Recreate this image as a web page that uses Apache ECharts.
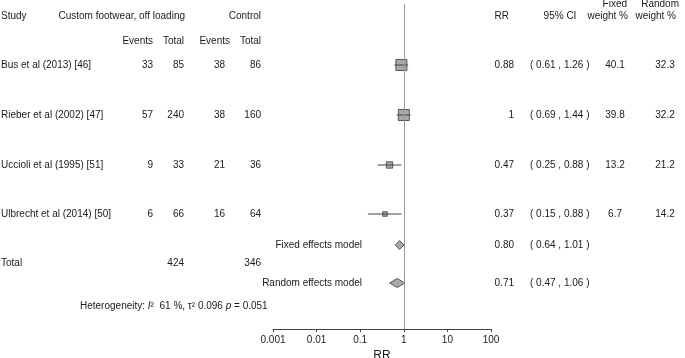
<!DOCTYPE html>
<html>
<head>
<meta charset="utf-8">
<script src="https://cdn.jsdelivr.net/npm/echarts@6/dist/echarts.min.js"></script>
<style>
  html, body { margin: 0; padding: 0; background: #fff; }
  #chart { width: 685px; height: 358px; }
</style>
</head>
<body>
<div id="chart"></div>
<script>
// study data
var studies = ["Bus et al (2013) [46]", "Rieber et al (2002) [47]", "Uccioli et al (1995) [51]", "Ulbrecht et al (2014) [50]"];
var expEvents = [33, 57, 9, 6];
var expTotal = [85, 240, 33, 66];
var ctrlEvents = [38, 38, 21, 16];
var ctrlTotal = [86, 160, 36, 64];
var rr = [0.88, 1, 0.47, 0.37];
var lower = [0.61, 0.69, 0.25, 0.15];
var upper = [1.26, 1.44, 0.88, 0.88];
var wFixed = [40.1, 39.8, 13.2, 6.7];
var wRandom = [32.3, 32.2, 21.2, 14.2];

// pooled estimates
var models = ["Fixed effects model", "Random effects model"];
var modelRR = [0.80, 0.71];
var modelLower = [0.64, 0.47];
var modelUpper = [1.01, 1.06];
var totalExp = 424;
var totalCtrl = 346;
var hetI2 = 61, hetTau2 = 0.096, hetP = 0.051;

var tickLabels = ["0.001", "0.01", "0.1", "1", "10", "100"];

// layout: vertical position of each text row (y axis units)
var ROW = { head: 16, sub: 41, study: [65, 115, 165, 214], fixed: 245, total: 263, random: 283, het: 306 };
var FONT = '"Liberation Sans", Arial, sans-serif';
var TXT = '#1a1a1a';

var chart = echarts.init(document.getElementById('chart'));

chart.setOption({
    animation: false,
    grid: { left: 273, width: 218, top: 4, height: 325, outerBoundsMode: 'none', containLabel: false },
    xAxis: {
        type: 'log',
        logBase: 10,
        min: 0.001,
        max: 100,
        axisLine: { lineStyle: { color: '#444', width: 1 } },
        axisTick: { length: 3, lineStyle: { color: '#444' } },
        axisLabel: {
            color: TXT, fontSize: 10, fontFamily: FONT, margin: 6,
            formatter: function (v) { return tickLabels[Math.round(Math.log10(v)) + 3]; }
        },
        splitLine: { show: false },
        name: 'RR',
        nameLocation: 'middle',
        nameGap: 18,
        nameTextStyle: { color: TXT, fontSize: 12, fontFamily: FONT }
    },
    yAxis: { type: 'value', min: 4, max: 329, inverse: true, show: false },
    series: [{
        type: 'custom',
        data: studies.map(function (s, i) { return [rr[i], ROW.study[i], lower[i], upper[i], wFixed[i]]; }),
        renderItem: function (params, api) {
            var c = api.coord([api.value(0), api.value(1)]);
            var l = api.coord([api.value(2), api.value(1)]);
            var h = api.coord([api.value(3), api.value(1)]);
            var s = 1.74 * Math.sqrt(api.value(4));
            return {
                type: 'group',
                children: [
                    { type: 'rect', shape: { x: c[0] - s / 2, y: c[1] - s / 2, width: s, height: s },
                      style: { fill: '#a9a9a9', stroke: '#555', lineWidth: 1 } },
                    { type: 'line', shape: { x1: l[0], y1: c[1], x2: h[0], y2: c[1] },
                      style: { stroke: '#444', lineWidth: 1 } }
                ]
            };
        },
        markLine: {
            silent: true,
            symbol: 'none',
            label: { show: false },
            lineStyle: { color: '#9a9a9a', type: 'solid', width: 1 },
            data: [{ xAxis: 1 }]
        }
    }, {
        type: 'custom',
        data: models.map(function (m, i) { return [modelRR[i], i === 0 ? ROW.fixed : ROW.random, modelLower[i], modelUpper[i]]; }),
        renderItem: function (params, api) {
            var c = api.coord([api.value(0), api.value(1)]);
            var l = api.coord([api.value(2), api.value(1)]);
            var h = api.coord([api.value(3), api.value(1)]);
            var hh = 4.5;
            return {
                type: 'polygon',
                shape: { points: [[l[0], c[1]], [c[0], c[1] - hh], [h[0], c[1]], [c[0], c[1] + hh]] },
                style: { fill: '#a9a9a9', stroke: '#555', lineWidth: 1 }
            };
        }
    }]
});

// table text, placed on the y axis rows
function py(v) { return chart.convertToPixel({ yAxisIndex: 0 }, v); }
function txt(str, x, y, align, extra) {
    var st = { text: str, fill: TXT, font: '10px ' + FONT, align: align || 'left', verticalAlign: 'middle' };
    if (extra) for (var k in extra) st[k] = extra[k];
    return { type: 'text', x: x, y: py(y), style: st, silent: true };
}

var g = [];
g.push(txt('Study', 1, ROW.head));
g.push(txt('Custom footwear, off loading', 185, ROW.head, 'right'));
g.push(txt('Control', 261, ROW.head, 'right'));
g.push(txt('RR', 509, ROW.head, 'right'));
g.push(txt('95% CI', 560, ROW.head, 'center'));
g.push(txt('Fixed', 627, ROW.head - 12, 'right'));
g.push(txt('weight %', 628, ROW.head, 'right'));
g.push(txt('Random', 679, ROW.head - 12, 'right'));
g.push(txt('weight %', 676, ROW.head, 'right'));
g.push(txt('Events', 153, ROW.sub, 'right'));
g.push(txt('Total', 184, ROW.sub, 'right'));
g.push(txt('Events', 230, ROW.sub, 'right'));
g.push(txt('Total', 261, ROW.sub, 'right'));

studies.forEach(function (s, i) {
    var y = ROW.study[i];
    g.push(txt(s, 1, y));
    g.push(txt(String(expEvents[i]), 153, y, 'right'));
    g.push(txt(String(expTotal[i]), 184, y, 'right'));
    g.push(txt(String(ctrlEvents[i]), 214, y, 'left'));
    g.push(txt(String(ctrlTotal[i]), 261, y, 'right'));
    g.push(txt(String(rr[i]), 514, y, 'right'));
    g.push(txt('( ' + lower[i].toFixed(2) + ' , ' + upper[i].toFixed(2) + ' )', 530, y));
    g.push(txt(String(wFixed[i]), 615, y, 'center'));
    g.push(txt(String(wRandom[i]), 665, y, 'center'));
});

models.forEach(function (m, i) {
    var y = i === 0 ? ROW.fixed : ROW.random;
    g.push(txt(m, 362, y, 'right'));
    g.push(txt(modelRR[i].toFixed(2), 514, y, 'right'));
    g.push(txt('( ' + modelLower[i].toFixed(2) + ' , ' + modelUpper[i].toFixed(2) + ' )', 530, y));
});

g.push(txt('Total', 1, ROW.total));
g.push(txt(String(totalExp), 184, ROW.total, 'right'));
g.push(txt(String(totalCtrl), 261, ROW.total, 'right'));

g.push(txt('{n|Heterogeneity: }{i|I}{n|\u00b2  ' + hetI2 + ' %, \u03c4\u00b2 ' + hetTau2 + ' }{i|p}{n| = ' + hetP + '}', 80, ROW.het, 'left', {
    rich: {
        n: { fontSize: 10, fontFamily: FONT, fill: TXT },
        i: { fontSize: 10, fontFamily: FONT, fontStyle: 'italic', fill: TXT }
    }
}));

chart.setOption({ graphic: g });

window.addEventListener('resize', function () { chart.resize(); });
</script>
</body>
</html>
